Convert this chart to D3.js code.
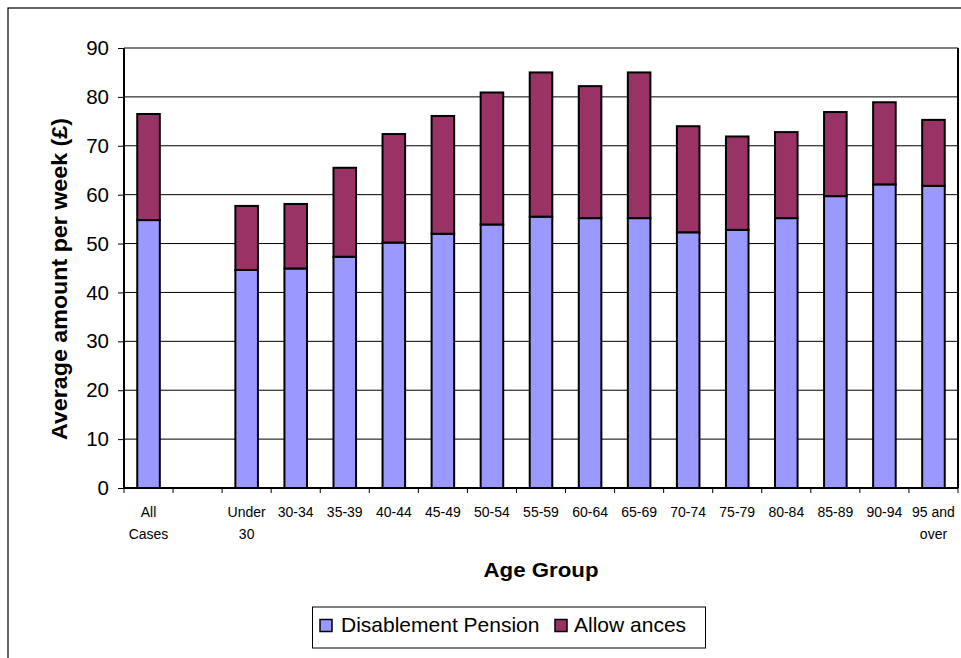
<!DOCTYPE html>
<html>
<head>
<meta charset="utf-8">
<script src="https://cdn.jsdelivr.net/npm/d3@7/dist/d3.min.js"></script>
<style>
  html, body { margin: 0; padding: 0; background: #fff; }
  svg { display: block; font-family: "Liberation Sans", Arial, sans-serif; }
</style>
</head>
<body>
<svg id="chart" width="961" height="658"></svg>
<script>
// ---- data ----
const categories = ["All Cases", "", "Under 30", "30-34", "35-39", "40-44", "45-49", "50-54",
  "55-59", "60-64", "65-69", "70-74", "75-79", "80-84", "85-89", "90-94", "95 and over"];
const tickLabels = ["All\nCases", "", "Under\n30", "30-34", "35-39", "40-44", "45-49", "50-54",
  "55-59", "60-64", "65-69", "70-74", "75-79", "80-84", "85-89", "90-94", "95 and\nover"];
const disablementPension = [54.8, null, 44.6, 44.9, 47.3, 50.2, 52.0, 53.9,
  55.5, 55.2, 55.2, 52.3, 52.8, 55.2, 59.7, 62.1, 61.8];
const allowances = [21.7, null, 13.1, 13.2, 18.2, 22.2, 24.1, 27.0,
  29.5, 27.0, 29.8, 21.7, 19.1, 17.6, 17.2, 16.8, 13.5];
const yTicks = [0, 10, 20, 30, 40, 50, 60, 70, 80, 90];
const seriesNames = ["Disablement Pension", "Allow ances"];
const seriesColors = ["#9999FF", "#993366"];

// ---- layout ----
const svg = d3.select("#chart");
const L = 124, R = 958, T = 48, B = 488;

// outer frame (clipped on right/bottom as in reference)
svg.append("rect").attr("x", 8).attr("y", 8).attr("width", 1000).attr("height", 700)
  .attr("fill", "none").attr("stroke", "#000").attr("stroke-width", 1.2);

const x = d3.scaleBand().domain(categories).range([L, R]).paddingInner(0.54).paddingOuter(0.27);
const slot = d3.scaleBand().domain(categories).range([L, R]).padding(0);
const y = d3.scaleLinear().domain([0, 90]).range([B, T]);

// gridlines
svg.append("g").selectAll("line").data(yTicks.filter(d => d > 0)).join("line")
  .attr("x1", L).attr("x2", R).attr("y1", d => y(d)).attr("y2", d => y(d))
  .attr("stroke", "#000").attr("stroke-width", 1);

// bars
const rows = categories.map((c, i) => ({ c, p: disablementPension[i], a: allowances[i] }))
  .filter(d => d.p != null);
const g = svg.append("g");
g.selectAll("rect.p").data(rows).join("rect")
  .attr("x", d => x(d.c)).attr("width", x.bandwidth())
  .attr("y", d => y(d.p)).attr("height", d => y(0) - y(d.p))
  .attr("fill", seriesColors[0]).attr("stroke", "#000").attr("stroke-width", 2);
g.selectAll("rect.a").data(rows).join("rect")
  .attr("x", d => x(d.c)).attr("width", x.bandwidth())
  .attr("y", d => y(d.p + d.a)).attr("height", d => y(d.p) - y(d.p + d.a))
  .attr("fill", seriesColors[1]).attr("stroke", "#000").attr("stroke-width", 2);

// right plot border
svg.append("line").attr("x1", R).attr("x2", R).attr("y1", T).attr("y2", B)
  .attr("stroke", "#000").attr("stroke-width", 2);

// y axis
const yAxis = d3.axisLeft(y).tickValues(yTicks).tickSize(6).tickPadding(9);
const ya = svg.append("g").attr("transform", `translate(${L},0)`).call(yAxis);
ya.select(".domain").attr("stroke", "#000").attr("stroke-width", 2).attr("d", `M0,${T}V${B}`);
ya.selectAll(".tick line").attr("stroke", "#000").attr("stroke-width", 1);
ya.selectAll(".tick text").attr("font-size", 20.5).attr("fill", "#000")
  .attr("font-family", "Liberation Sans, Arial, sans-serif");

// x axis
svg.append("line").attr("x1", L).attr("x2", R).attr("y1", B).attr("y2", B)
  .attr("stroke", "#000").attr("stroke-width", 2);
const bounds = categories.map(c => slot(c)).concat([R]);
svg.append("g").selectAll("line").data(bounds).join("line")
  .attr("x1", d => d).attr("x2", d => d).attr("y1", B).attr("y2", B + 5)
  .attr("stroke", "#000").attr("stroke-width", 1);
const xl = svg.append("g").selectAll("text").data(categories).join("text")
  .attr("x", d => slot(d) + slot.bandwidth() / 2)
  .attr("text-anchor", "middle").attr("font-size", 14).attr("fill", "#000");
xl.each(function(d, i) {
  const lines = tickLabels[i].split("\n");
  d3.select(this).selectAll("tspan").data(lines).join("tspan")
    .attr("x", slot(d) + slot.bandwidth() / 2)
    .attr("y", (l, j) => 517 + j * 22)
    .text(l => l);
});

// axis titles
svg.append("text").attr("x", (L + R) / 2).attr("y", 577).attr("text-anchor", "middle")
  .attr("font-size", 19.5).attr("font-weight", "bold")
  .attr("textLength", 115).attr("lengthAdjust", "spacingAndGlyphs").text("Age Group");
svg.append("text").attr("transform", `translate(67,279) rotate(-90)`)
  .attr("text-anchor", "middle").attr("font-size", 22).attr("font-weight", "bold")
  .attr("textLength", 322).attr("lengthAdjust", "spacingAndGlyphs")
  .text("Average amount per week (£)");

// legend
const lg = svg.append("g");
lg.append("rect").attr("x", 312.5).attr("y", 607).attr("width", 393).attr("height", 41)
  .attr("fill", "#fff").attr("stroke", "#000").attr("stroke-width", 1);
const legendX = [320, 555];
seriesNames.forEach((n, i) => {
  lg.append("rect").attr("x", legendX[i]).attr("y", 619.5).attr("width", 12).attr("height", 12)
    .attr("fill", seriesColors[i]).attr("stroke", "#000").attr("stroke-width", 1.5);
  lg.append("text").attr("x", legendX[i] + (i === 0 ? 21 : 19)).attr("y", 632).attr("font-size", 21)
    .attr("fill", "#000").text(n);
});
</script>
</body>
</html>
